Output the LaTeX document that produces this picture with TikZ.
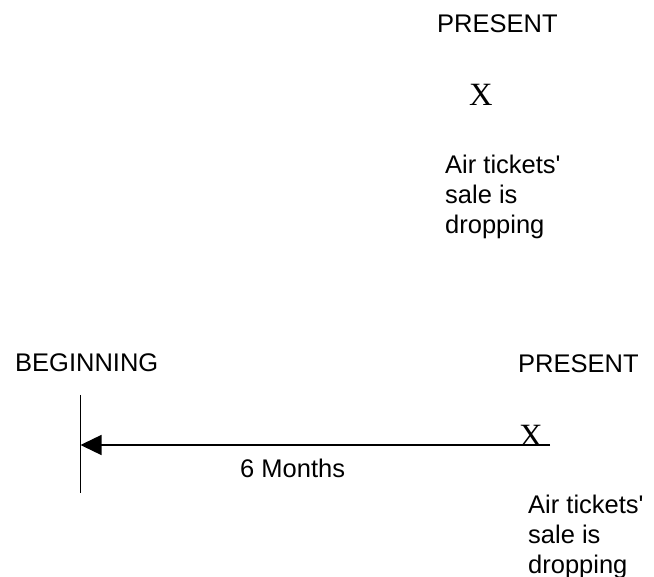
\documentclass[tikz,border=0pt]{standalone}
\usepackage{fontspec}
\setmainfont{Liberation Sans}
\newfontfamily\crossfont{Liberation Serif}
\usetikzlibrary{arrows.meta}

\begin{document}
\begin{tikzpicture}[x=1pt,y=-1pt]
    \useasboundingbox (0,0) rectangle (654,577);
    \begin{scope}[every node/.style={inner sep=0pt,anchor=base west,font=\fontsize{25.5}{30}\selectfont}]
        \node (present1) at (437,33) {PRESENT};
        \node[font=\fontsize{32.5}{32.5}\crossfont] (x1) at (469,106) {X};
        \node[anchor=north west,align=left] (sale1) at (445,155) {Air tickets\textquotesingle\\sale is\\dropping};
        \node (begin) at (15,372) {BEGINNING};
        \node (present2) at (518,373) {PRESENT};
        \node[font=\fontsize{32.5}{32.5}\crossfont] (x2) at (519,447) {X};
        \node (months) at (240,478) {6 Months};
        \node[anchor=north west,align=left] (sale2) at (528,495) {Air tickets\textquotesingle\\sale is\\dropping};
    \end{scope}
    \coordinate (top) at (80.5,395);
    \coordinate (bottom) at (80.5,493);
    \coordinate (end) at (550,445);
    \begin{scope}[line width=1.3pt,>={Triangle[length=21pt,width=20pt]}]
        \draw (top) -- (bottom);
        \draw[->] (end) -- (end -| top);
    \end{scope}

\end{tikzpicture}
\end{document}
